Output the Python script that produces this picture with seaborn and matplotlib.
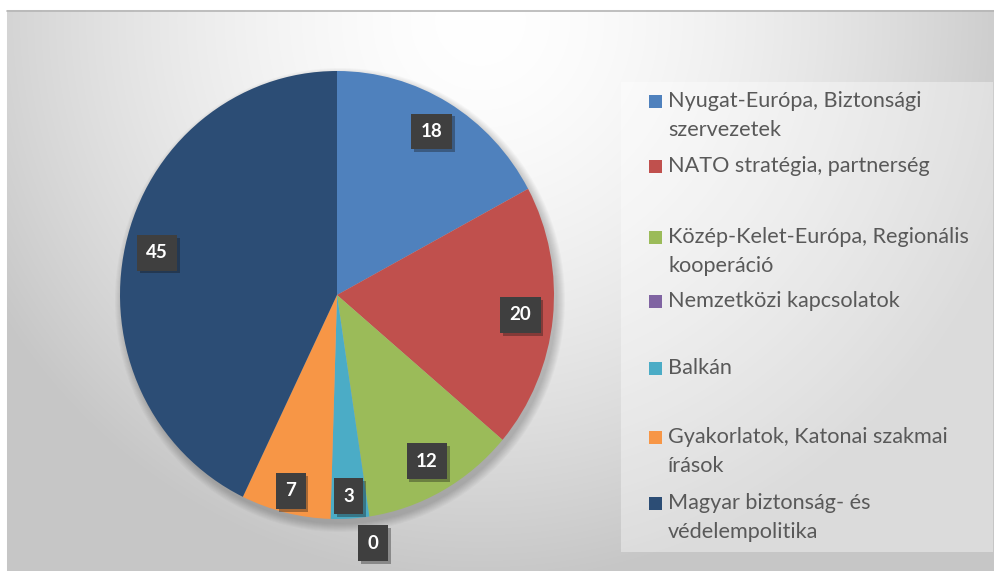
import numpy as np
import matplotlib.pyplot as plt
import matplotlib.patheffects as pe
from matplotlib.patches import Rectangle, Ellipse
import seaborn as sns

# data
categories = ["Nyugat-Európa, Biztonsági\nszervezetek",
              "NATO stratégia, partnerség",
              "Közép-Kelet-Európa, Regionális\nkooperáció",
              "Nemzetközi kapcsolatok",
              "Balkán",
              "Gyakorlatok, Katonai szakmai\nírások",
              "Magyar biztonság- és\nvédelempolitika"]
values = [18, 20, 12, 0, 3, 7, 45]
colors = ["#4F81BD", "#C0504D", "#9BBB59", "#8064A2", "#4BACC6", "#F79646", "#2C4D75"]

sns.set_theme(style="white")
plt.rcParams['font.family'] = ['Lato', 'DejaVu Sans']

W, H = 995, 571
fig = plt.figure(figsize=(W / 100, H / 100), dpi=100)
fig.patch.set_facecolor('white')

# background panel with a soft radial gradient (pixel coords)
bg = fig.add_axes([0, 0, 1, 1])
yy, xx = np.mgrid[0:H, 0:W]
d = np.sqrt(((xx - 480) / 560.) ** 2 + ((yy - 20) / 560.) ** 2)
shade = 1 - 0.22 * np.clip(d, 0, 1) ** 1.6
img = np.dstack([shade] * 3)
img[:10, :, :] = 1
img[:, :7, :] = 1
bg.imshow(img, extent=[0, W, H, 0], aspect='auto', interpolation='bilinear')
bg.set_xlim(0, W)
bg.set_ylim(H, 0)
bg.axis('off')
bg.plot([7, W], [10.5, 10.5], color='#b5b5b5', lw=1.2)

# pie geometry (pixels)
cx, cy, rx, ry = 337, 295, 217, 224

# soft shadow under the pie
for k in range(0, 18, 2):
    bg.add_patch(Ellipse((cx + 3, cy + 5), 2 * rx + k, 2 * ry + k,
                         fc='black', ec='none', alpha=0.025))

ax = fig.add_axes([(cx - rx) / W, (H - cy - ry) / H, 2 * rx / W, 2 * ry / H])
ax.patch.set_alpha(0)
wedges, _ = ax.pie(values, colors=sns.color_palette(colors), startangle=90,
                   counterclock=False, wedgeprops=dict(linewidth=0))
ax.set_aspect('auto')
ax.set_xlim(-1, 1)
ax.set_ylim(-1, 1)
ax.axis('off')

# data labels in dark boxes
for w, v in zip(wedges, values):
    mid = np.deg2rad((w.theta1 + w.theta2) / 2)
    if v == 0:
        dist = 1.12
    elif v < 10:
        dist = 0.9
    else:
        dist = 0.85
    t = ax.text(dist * np.cos(mid), dist * np.sin(mid), str(v),
                ha='center', va='center', color='white', fontsize=13.5,
                fontweight='bold', clip_on=False,
                bbox=dict(boxstyle='square,pad=0.5', fc='#3f3f3f', ec='none'))
    t.get_bbox_patch().set_path_effects(
        [pe.SimplePatchShadow(offset=(2, -2), alpha=0.35), pe.Normal()])

# legend drawn by hand (Excel spreads entries unevenly)
bg.add_patch(Rectangle((621, 82), 372, 470, fc='white', ec='none', alpha=0.38))
entry_y = [101, 166, 237, 301, 368, 437, 503]
line_step = 29.5
for lab, col, y0 in zip(categories, colors, entry_y):
    bg.add_patch(Rectangle((648.5, y0 - 6.5), 13, 13, fc=col, ec='none'))
    for i, line in enumerate(lab.split("\n")):
        bg.text(668, y0 + i * line_step, line, ha='left', va='center',
                fontsize=15.6, color='#595959')

fig.savefig("out.png", dpi=100)
